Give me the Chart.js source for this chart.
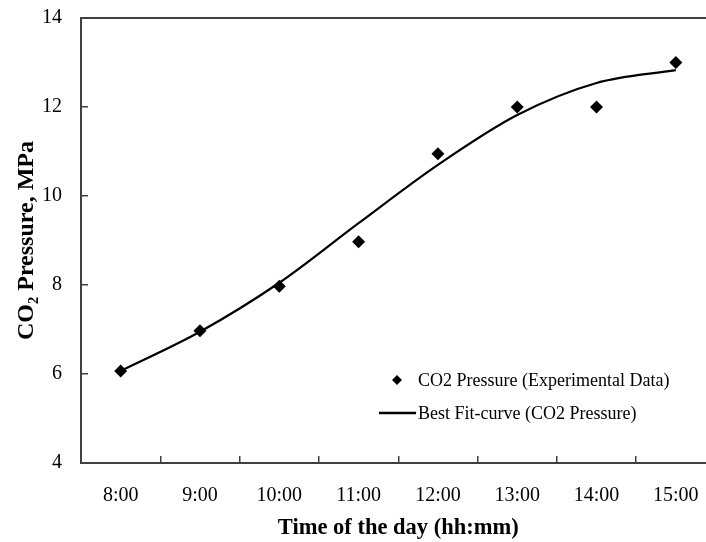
<!DOCTYPE html>
<html>
<head>
<meta charset="utf-8">
<script src="https://cdn.jsdelivr.net/npm/chart.js@4/dist/chart.umd.min.js"></script>
<style>
    html, body { margin: 0; padding: 0; background: #fff; overflow: hidden; }
    #wrap { width: 722px; height: 542px; }
</style>
</head>
<body>
<div id="wrap"><canvas id="co2Chart" width="722" height="542"></canvas></div>
<script>
//chart data
const timeLabels = ['8:00', '9:00', '10:00', '11:00', '12:00', '13:00', '14:00', '15:00'];
const measuredPressure = [6.07, 6.97, 7.97, 8.97, 10.95, 12.0, 12.0, 13.0];
const fittedPressure = [6.07, 6.95, 8.05, 9.39, 10.70, 11.82, 12.54, 12.83];
const pressureTicks = [4, 6, 8, 10, 12, 14];

const serif = "'Liberation Serif', 'Times New Roman', serif";

//plugin to draw the legend inside the plot area (lower right)
const insideLegend = {
    id: 'insideLegend',
    afterDraw(chart) {
        const ctx = chart.ctx;
        const sets = chart.data.datasets;
        const x = 397, y0 = 380, gap = 33;
        ctx.save();
        ctx.font = '18px ' + serif;
        ctx.fillStyle = '#000';
        ctx.textBaseline = 'middle';
        //diamond marker row
        ctx.beginPath();
        ctx.moveTo(x, y0 - 5);
        ctx.lineTo(x + 5, y0);
        ctx.lineTo(x, y0 + 5);
        ctx.lineTo(x - 5, y0);
        ctx.closePath();
        ctx.fill();
        ctx.fillText(sets[0].label, 418, y0 + 1);
        //line row
        ctx.strokeStyle = '#000';
        ctx.lineWidth = 2.5;
        ctx.beginPath();
        ctx.moveTo(379, y0 + gap);
        ctx.lineTo(416, y0 + gap);
        ctx.stroke();
        ctx.fillText(sets[1].label, 418, y0 + gap + 1);
        ctx.restore();
    }
};

new Chart(document.getElementById('co2Chart'), {
    type: 'line',
    data: {
        labels: timeLabels,
        datasets: [{
            label: 'CO2 Pressure (Experimental Data)',
            data: measuredPressure,
            showLine: false,
            pointStyle: 'rectRot',
            pointRadius: 6.5,
            pointBackgroundColor: '#000',
            pointBorderColor: '#000',
            pointBorderWidth: 0,
            order: 1
        }, {
            label: 'Best Fit-curve (CO2 Pressure)',
            data: fittedPressure,
            borderColor: '#000',
            borderWidth: 2.2,
            pointRadius: 0,
            cubicInterpolationMode: 'monotone',
            fill: false,
            order: 2
        }]
    },
    options: {
        responsive: false,
        animation: false,
        layout: { padding: { top: 18, right: 5, left: 0, bottom: 0 } },
        plugins: {
            legend: { display: false },
            tooltip: { enabled: false }
        },
        scales: {
            x: {
                type: 'category',
                offset: true,
                grid: {
                    offset: true,
                    drawOnChartArea: false,
                    drawTicks: true,
                    tickLength: -7,
                    color: '#404040',
                    lineWidth: 1.5
                },
                border: { display: true, color: '#404040', width: 2 },
                ticks: {
                    color: '#000',
                    padding: 28,
                    maxRotation: 0,
                    font: { family: serif, size: 20 }
                },
                title: {
                    display: true,
                    text: 'Time of the day (hh:mm)',
                    color: '#000',
                    padding: { top: 0, bottom: 0 },
                    font: { family: serif, size: 22.5, weight: 'bold' }
                },
                afterFit(scale) {
                    scale.height = 79;
                    scale.paddingLeft = 0;
                    scale.paddingRight = 0;
                }
            },
            y: {
                min: 4,
                max: 14,
                afterBuildTicks(scale) {
                    scale.ticks = pressureTicks.map(v => ({ value: v }));
                },
                grid: {
                    drawOnChartArea: false,
                    drawTicks: true,
                    tickLength: -7,
                    color: '#404040',
                    lineWidth: 1.5
                },
                border: { display: true, color: '#404040', width: 2 },
                ticks: {
                    color: '#000',
                    padding: 26,
                    font: { family: serif, size: 20 }
                },
                title: {
                    display: true,
                    text: 'CO₂ Pressure, MPa',
                    color: '#000',
                    padding: { top: 12, bottom: 0 },
                    font: { family: serif, size: 24, weight: 'bold' }
                },
                afterFit(scale) {
                    scale.width = 81;
                    scale.paddingTop = 0;
                    scale.paddingBottom = 0;
                }
            }
        }
    },
    plugins: [insideLegend, {
        //top frame line of the plot box
        id: 'topBorder',
        afterDraw(chart) {
            const a = chart.chartArea;
            const ctx = chart.ctx;
            ctx.save();
            ctx.strokeStyle = '#404040';
            ctx.lineWidth = 2;
            ctx.beginPath();
            ctx.moveTo(a.left, a.top);
            ctx.lineTo(a.right, a.top);
            ctx.lineTo(a.right, a.bottom);
            ctx.stroke();
            ctx.restore();
        }
    }]
});
</script>
</body>
</html>
